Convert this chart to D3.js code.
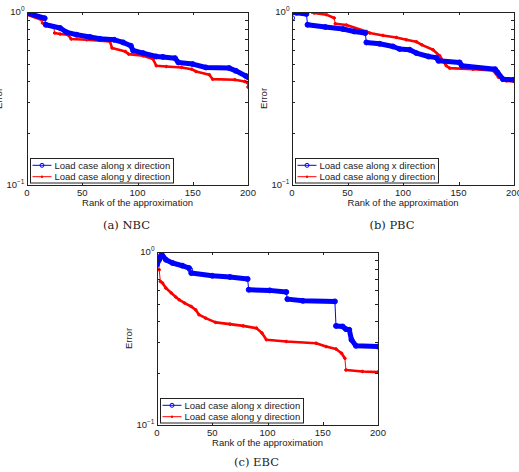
<!DOCTYPE html>
<html>
<head>
<meta charset="utf-8">
<script src="https://cdn.jsdelivr.net/npm/d3@7"></script>
<style>
    body { margin: 0; background: white; }
    svg { display: block; }
    text { font-family: "Liberation Sans", Arial, sans-serif; }
</style>
</head>
<body>
<svg id="chart" width="519" height="472"></svg>
<script>
// values (rank -> relative error)
const nbcRankX = [0, 16, 17, 30, 36, 45, 57, 66, 79, 87, 94, 96, 105, 117, 123, 134, 137, 150, 162, 183, 189, 198, 200];
const nbcErrX = [0.987, 0.92, 0.844, 0.808, 0.762, 0.739, 0.717, 0.700, 0.691, 0.667, 0.638, 0.599, 0.579, 0.553, 0.550, 0.541, 0.511, 0.500, 0.478, 0.474, 0.457, 0.427, 0.420];
const nbcRankY = [0, 13, 14, 24, 25, 30, 37, 40, 54, 75, 77, 89, 92, 105, 114, 117, 126, 140, 149, 153, 165, 168, 188, 197, 199, 200];
const nbcErrY = [0.965, 0.902, 0.864, 0.833, 0.756, 0.746, 0.739, 0.698, 0.691, 0.676, 0.619, 0.591, 0.571, 0.558, 0.535, 0.489, 0.484, 0.478, 0.467, 0.453, 0.434, 0.409, 0.406, 0.397, 0.392, 0.368];

const pbcRankX = [0, 1, 4, 13, 14, 30, 46, 56, 66, 67, 79, 91, 97, 106, 112, 123, 130, 132, 151, 153, 183, 185, 190, 200];
const pbcErrX = [0.923, 1.0, 0.99, 0.975, 0.844, 0.819, 0.797, 0.772, 0.756, 0.667, 0.655, 0.632, 0.611, 0.605, 0.579, 0.553, 0.545, 0.522, 0.511, 0.489, 0.467, 0.449, 0.409, 0.406];
const pbcRankY = [18, 20, 31, 38, 39, 49, 67, 70, 82, 94, 103, 112, 117, 127, 133, 139, 142, 163, 181, 186, 193, 200];
const pbcErrY = [1.0, 0.987, 0.965, 0.923, 0.855, 0.841, 0.772, 0.756, 0.732, 0.713, 0.691, 0.673, 0.646, 0.605, 0.558, 0.489, 0.474, 0.467, 0.459, 0.420, 0.400, 0.397];

const ebcRankX = [0, 2, 4, 5, 8, 14, 23, 29, 30, 31, 50, 66, 82, 83, 102, 117, 118, 132, 161, 162, 168, 171, 174, 176, 180, 200];
const ebcErrX = [0.845, 0.903, 0.965, 0.952, 0.903, 0.864, 0.833, 0.808, 0.79, 0.756, 0.729, 0.717, 0.698, 0.605, 0.600, 0.587, 0.534, 0.522, 0.518, 0.374, 0.371, 0.358, 0.355, 0.311, 0.287, 0.284];
const ebcRankY = [0, 1, 2, 3, 5, 8, 13, 17, 20, 25, 31, 35, 38, 44, 53, 66, 78, 90, 95, 99, 117, 144, 153, 162, 167, 170, 171, 186, 200];
const ebcErrY = [0.864, 0.944, 0.790, 0.676, 0.662, 0.619, 0.579, 0.549, 0.530, 0.507, 0.484, 0.463, 0.434, 0.415, 0.392, 0.383, 0.374, 0.363, 0.340, 0.311, 0.304, 0.297, 0.284, 0.275, 0.260, 0.243, 0.208, 0.204, 0.202];

const xTicks = [0, 50, 100, 150, 200];
const yMinorTicks = [0.2, 0.3, 0.4, 0.5, 0.6, 0.7, 0.8, 0.9];
const legendLabels = ["Load case along x direction", "Load case along y direction"];
const captions = ["(a)  NBC", "(b)  PBC", "(c)  EBC"];

const zip = (ranks, errs) => ranks.map((r, i) => ({ rank: r, err: errs[i] }));

const panels = [
    { left: 27, top: 12, width: 221, height: 173, caption: captions[0], capY: 229, x: zip(nbcRankX, nbcErrX), y: zip(nbcRankY, nbcErrY) },
    { left: 292, top: 12, width: 222, height: 173, caption: captions[1], capY: 229, x: zip(pbcRankX, pbcErrX), y: zip(pbcRankY, pbcErrY) },
    { left: 157, top: 252, width: 221, height: 173, caption: captions[2], capY: 466, x: zip(ebcRankX, ebcErrX), y: zip(ebcRankY, ebcErrY) }
];

const BLUE = "#0000ff";
const RED = "#ff0000";

const svg = d3.select("#chart");

// split a series into runs; a drop inside one rank step is drawn thin
function runs(points) {
    const out = [];
    let cur = [points[0]];
    for (let i = 1; i < points.length; i++) {
        if (points[i].rank - points[i - 1].rank >= 2) {
            cur.push(points[i]);
        } else {
            out.push(cur);
            cur = [points[i]];
        }
    }
    out.push(cur);
    return out;
}

function drawPanel(p, idx) {
    const x = d3.scaleLinear().domain([0, 200]).range([p.left, p.left + p.width]);
    const y = d3.scaleLog().domain([0.1, 1]).range([p.top + p.height, p.top]);
    const g = svg.append("g");

    g.append("clipPath").attr("id", "clip" + idx)
        .append("rect")
        .attr("x", p.left).attr("y", p.top)
        .attr("width", p.width).attr("height", p.height);

    const line = d3.line().x(d => x(d.rank)).y(d => y(d.err));
    const plot = g.append("g").attr("clip-path", `url(#clip${idx})`);

    // series: thin connecting line + thick marker band + point markers
    [[p.y, RED, 2.6, 1.3], [p.x, BLUE, 5, 2.5]].forEach(([pts, color, band, r]) => {
        plot.append("path")
            .attr("d", line(pts))
            .attr("fill", "none")
            .attr("stroke", color)
            .attr("stroke-width", 1);

        plot.selectAll(null)
            .data(runs(pts).filter(run => run.length > 1))
            .join("path")
            .attr("d", d => line(d))
            .attr("fill", "none")
            .attr("stroke", color)
            .attr("stroke-width", band)
            .attr("stroke-linejoin", "round")
            .attr("stroke-linecap", "round");

        plot.selectAll(null)
            .data(pts)
            .join("circle")
            .attr("cx", d => x(d.rank))
            .attr("cy", d => y(d.err))
            .attr("r", r)
            .attr("fill", color === BLUE ? "none" : color)
            .attr("stroke", color)
            .attr("stroke-width", 1);
    });

    // box
    g.append("rect")
        .attr("x", p.left + 0.5).attr("y", p.top + 0.5)
        .attr("width", p.width).attr("height", p.height)
        .attr("fill", "none")
        .attr("stroke", "#222")
        .attr("stroke-width", 1);

    const bottom = p.top + p.height;
    const right = p.left + p.width;
    const tickLen = 3;

    // x ticks, inside on top and bottom
    xTicks.forEach(t => {
        const xx = Math.round(x(t)) + 0.5;
        g.append("line").attr("x1", xx).attr("x2", xx).attr("y1", bottom).attr("y2", bottom - tickLen)
            .attr("stroke", "#222");
        g.append("line").attr("x1", xx).attr("x2", xx).attr("y1", p.top).attr("y2", p.top + tickLen)
            .attr("stroke", "#222");
        g.append("text")
            .attr("x", x(t)).attr("y", bottom + 11)
            .attr("text-anchor", "middle")
            .attr("font-size", 9.5)
            .attr("fill", "#222")
            .text(t);
    });

    // log minor ticks, inside on both sides
    yMinorTicks.forEach(t => {
        const yy = Math.round(y(t)) + 0.5;
        g.append("line").attr("x1", p.left).attr("x2", p.left + tickLen).attr("y1", yy).attr("y2", yy)
            .attr("stroke", "#222");
        g.append("line").attr("x1", right).attr("x2", right - tickLen).attr("y1", yy).attr("y2", yy)
            .attr("stroke", "#222");
    });

    // decade labels 10^0 and 10^-1
    [[1, "0"], [0.1, "\u22121"]].forEach(([v, exp]) => {
        const t = g.append("text")
            .attr("x", p.left - 2.5).attr("y", y(v) + 3.4)
            .attr("text-anchor", "end")
            .attr("font-size", 9.5)
            .attr("fill", "#222");
        t.append("tspan").text("10");
        t.append("tspan").attr("dy", -4.5).attr("font-size", 6.5).text(exp);
    });

    g.append("text")
        .attr("x", (p.left + right) / 2).attr("y", bottom + 21)
        .attr("text-anchor", "middle")
        .attr("font-size", 9.5)
        .attr("fill", "#222")
        .text("Rank of the approximation");

    g.append("text")
        .attr("transform", `translate(${p.left - 25},${p.top + p.height / 2}) rotate(-90)`)
        .attr("text-anchor", "middle")
        .attr("font-size", 9.5)
        .attr("fill", "#222")
        .text("Error");

    // legend
    const lg = g.append("g").attr("transform", `translate(${p.left + 3},${bottom - 27})`);
    lg.append("rect")
        .attr("x", 0.5).attr("y", 0.5)
        .attr("width", 143).attr("height", 24.5)
        .attr("fill", "white")
        .attr("stroke", "#222");

    [[BLUE, 7.3], [RED, 18.7]].forEach(([color, ly], i) => {
        lg.append("line")
            .attr("x1", 2.5).attr("x2", 21.5).attr("y1", ly).attr("y2", ly)
            .attr("stroke", color).attr("stroke-width", 1);
        if (color === BLUE) {
            lg.append("circle").attr("cx", 12).attr("cy", ly).attr("r", 2)
                .attr("fill", "none").attr("stroke", color);
        } else {
            lg.append("circle").attr("cx", 12).attr("cy", ly).attr("r", 1.2)
                .attr("fill", color);
        }
        lg.append("text")
            .attr("x", 24.5).attr("y", ly + 3.4)
            .attr("font-size", 9.5)
            .attr("fill", "#222")
            .text(legendLabels[i]);
    });

    // sub-caption
    g.append("text")
        .attr("x", (p.left + right) / 2 - 11).attr("y", p.capY)
        .attr("text-anchor", "middle")
        .attr("font-size", 11.5)
        .attr("fill", "#222")
        .style("font-family", "'DejaVu Serif', serif")
        .text(p.caption);
}

panels.forEach(drawPanel);
</script>
</body>
</html>
